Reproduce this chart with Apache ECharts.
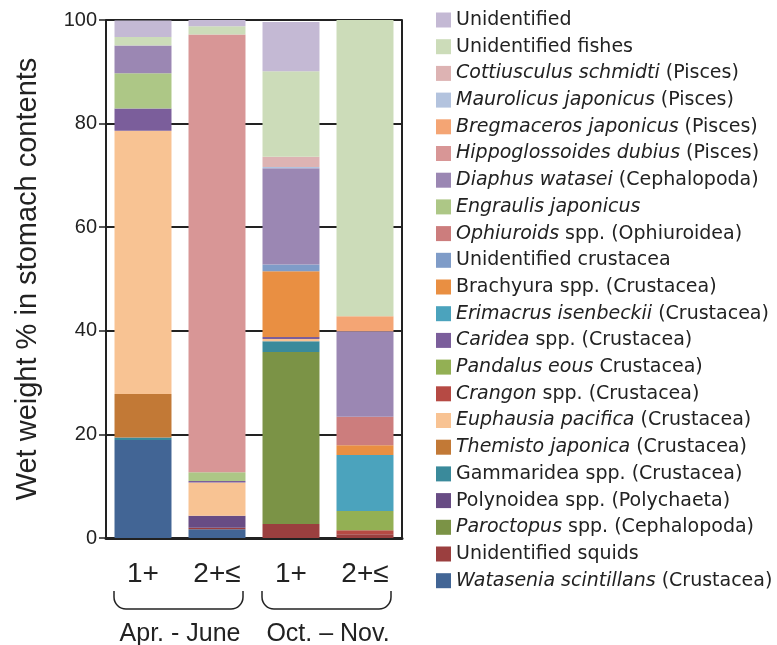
<!DOCTYPE html>
<html>
<head>
<meta charset="utf-8">
<script src="https://cdn.jsdelivr.net/npm/echarts@6/dist/echarts.min.js"></script>
<style>
html,body{margin:0;padding:0;background:#fff;}
#main{width:777px;height:645px;}
</style>
</head>
<body>
<div id="main"></div>
<script>
// stack order, bottom to top
var species = [
	'Watasenia scintillans (Crustacea)',
	'Unidentified squids',
	'Paroctopus spp. (Cephalopoda)',
	'Polynoidea spp. (Polychaeta)',
	'Gammaridea spp. (Crustacea)',
	'Themisto japonica (Crustacea)',
	'Euphausia pacifica (Crustacea)',
	'Crangon spp. (Crustacea)',
	'Pandalus eous Crustacea)',
	'Caridea spp. (Crustacea)',
	'Erimacrus isenbeckii (Crustacea)',
	'Brachyura spp. (Crustacea)',
	'Unidentified crustacea',
	'Ophiuroids spp. (Ophiuroidea)',
	'Engraulis japonicus',
	'Diaphus watasei (Cephalopoda)',
	'Hippoglossoides dubius (Pisces)',
	'Bregmaceros japonicus (Pisces)',
	'Maurolicus japonicus (Pisces)',
	'Cottiusculus schmidti (Pisces)',
	'Unidentified fishes',
	'Unidentified'
];
// italic part of each name (scientific name)
var italicPart = [
	'Watasenia scintillans', '', 'Paroctopus', '', '', 'Themisto japonica',
	'Euphausia pacifica', 'Crangon', 'Pandalus eous', 'Caridea',
	'Erimacrus isenbeckii', '', '', 'Ophiuroids', 'Engraulis japonicus',
	'Diaphus watasei', 'Hippoglossoides dubius', 'Bregmaceros japonicus',
	'Maurolicus japonicus', 'Cottiusculus schmidti', '', ''
];
var colors = [
	'#426595', '#9b3f3f', '#7b9346', '#684c84', '#3a8a9b', '#c27936',
	'#f8c393', '#b64a44', '#93b054', '#7b5e9b', '#4ba3bd', '#e98f42',
	'#7f9cc8', '#cc7d7d', '#adc786', '#9b87b3', '#d89696', '#f4a574',
	'#b3c3de', '#ddb3b3', '#ccdcb9', '#c4b9d4'
];

var ageLabels = ['1+', '2+\u2264', '1+', '2+\u2264'];
var seasons = ['Apr. - June', 'Oct. \u2013 Nov.'];
var yTicks = [0, 20, 40, 60, 80, 100];

// wet weight % per species (same order as species)
var aprJune1 = [18.9, 0, 0, 0, 0.5, 8.4, 50.8, 0, 0, 4.3, 0, 0, 0, 0, 6.8, 5.4, 0, 0, 0, 0, 1.6, 3.2];
var aprJune2 = [1.7, 0.3, 0, 2.3, 0, 0, 6.4, 0, 0, 0.3, 0, 0, 0, 0, 1.7, 0, 84.5, 0, 0, 0, 1.6, 1.2];
var octNov1  = [0, 2.7, 33.2, 0, 2.1, 0, 0.4, 0, 0, 0.4, 0, 12.7, 1.3, 0, 0, 18.6, 0, 0, 0.2, 2.0, 16.5, 9.5];
var octNov2  = [0, 0.7, 0, 0, 0, 0, 0, 0.8, 3.7, 0, 10.8, 1.9, 0, 5.5, 0, 16.5, 0, 2.9, 0, 0, 57.2, 0];

var columns = [aprJune1, aprJune2, octNov1, octNov2];

var series = [];
for (var i = 0; i < species.length; i++) {
	series.push({
		name: species[i],
		type: 'bar',
		stack: 'total',
		barWidth: '77%',
		itemStyle: { color: colors[i] },
		emphasis: { disabled: true },
		data: columns.map(function (c) { return c[i]; })
	});
}

var legendOrder = species.slice().reverse();

var myChart = echarts.init(document.getElementById('main'));
var option = {
	animation: false,
	grid: { left: 106, right: 375, top: 20, bottom: 107 },
	legend: {
		orient: 'vertical',
		left: 436,
		top: 10,
		padding: 0,
		itemWidth: 15,
		itemHeight: 15,
		itemGap: 6.7,
		icon: 'rect',
		data: legendOrder,
		formatter: function (name) {
			var idx = species.indexOf(name);
			var it = italicPart[idx];
			if (!it) return '{n|' + name + '}';
			var rest = name.slice(it.length);
			return rest ? '{i|' + it + '}{n|' + rest + '}' : '{i|' + it + '}';
		},
		textStyle: {
			fontFamily: 'DejaVu Sans',
			fontSize: 19,
			color: '#222',
			lineHeight: 20,
			rich: {
				i: { fontFamily: 'DejaVu Sans', fontStyle: 'italic', fontSize: 19, color: '#222', lineHeight: 20 },
				n: { fontFamily: 'DejaVu Sans', fontSize: 19, color: '#222', lineHeight: 20 }
			}
		}
	},
	xAxis: {
		type: 'category',
		data: ageLabels,
		axisLine: { lineStyle: { color: '#222', width: 3 } },
		axisTick: { show: false },
		axisLabel: {
			fontFamily: 'Liberation Sans',
			fontSize: 28,
			color: '#222',
			margin: 22
		}
	},
	yAxis: [{
		type: 'value',
		min: 0,
		max: 100,
		interval: 20,
		name: 'Wet weight % in stomach contents',
		nameLocation: 'middle',
		nameGap: 64,
		nameTextStyle: { fontFamily: 'Liberation Sans', fontSize: 29, color: '#222' },
		axisLine: { show: true, lineStyle: { color: '#222', width: 2 } },
		axisTick: { show: true, length: 7, lineStyle: { color: '#222', width: 1.5 } },
		splitLine: { show: true, lineStyle: { color: '#222', width: 2 } },
		axisLabel: {
			fontFamily: 'Liberation Sans',
			fontSize: 20,
			color: '#222',
			margin: 9,
			formatter: function (v) { return yTicks.indexOf(v) >= 0 ? String(v) : ''; }
		}
	}, {
		type: 'value',
		position: 'right',
		min: 0,
		max: 100,
		interval: 20,
		axisLine: { show: true, lineStyle: { color: '#222', width: 2 } },
		axisTick: { show: true, inside: true, length: 6, lineStyle: { color: '#222', width: 2 } },
		splitLine: { show: false },
		axisLabel: { show: false }
	}],
	series: series
};
myChart.setOption(option);

// braces and season labels under the age groups
var graphics = [];
var baseY = myChart.convertToPixel({ yAxisIndex: 0 }, 0);
for (var s = 0; s < seasons.length; s++) {
	var xa = myChart.convertToPixel({ xAxisIndex: 0 }, s * 2);
	var xb = myChart.convertToPixel({ xAxisIndex: 0 }, s * 2 + 1);
	var x1 = xa - 29, x2 = xb + 26;
	var y1 = baseY + 53, y2 = baseY + 71, r = 12;
	var st = { fill: null, stroke: '#222', lineWidth: 1.5 };
	graphics.push({ type: 'line', shape: { x1: x1, y1: y1, x2: x1, y2: y2 - r }, style: st });
	graphics.push({ type: 'arc', shape: { cx: x1 + r, cy: y2 - r, r: r, startAngle: Math.PI / 2, endAngle: Math.PI }, style: st });
	graphics.push({ type: 'line', shape: { x1: x1 + r, y1: y2, x2: x2 - r, y2: y2 }, style: st });
	graphics.push({ type: 'arc', shape: { cx: x2 - r, cy: y2 - r, r: r, startAngle: 0, endAngle: Math.PI / 2 }, style: st });
	graphics.push({ type: 'line', shape: { x1: x2, y1: y1, x2: x2, y2: y2 - r }, style: st });
	graphics.push({
		type: 'text',
		x: (xa + xb) / 2,
		y: baseY + 96,
		style: {
			text: seasons[s],
			fontFamily: 'Liberation Sans',
			fontSize: 25,
			fill: '#222',
			align: 'center',
			verticalAlign: 'middle'
		}
	});
}
myChart.setOption({ graphic: graphics });
</script>
</body>
</html>
